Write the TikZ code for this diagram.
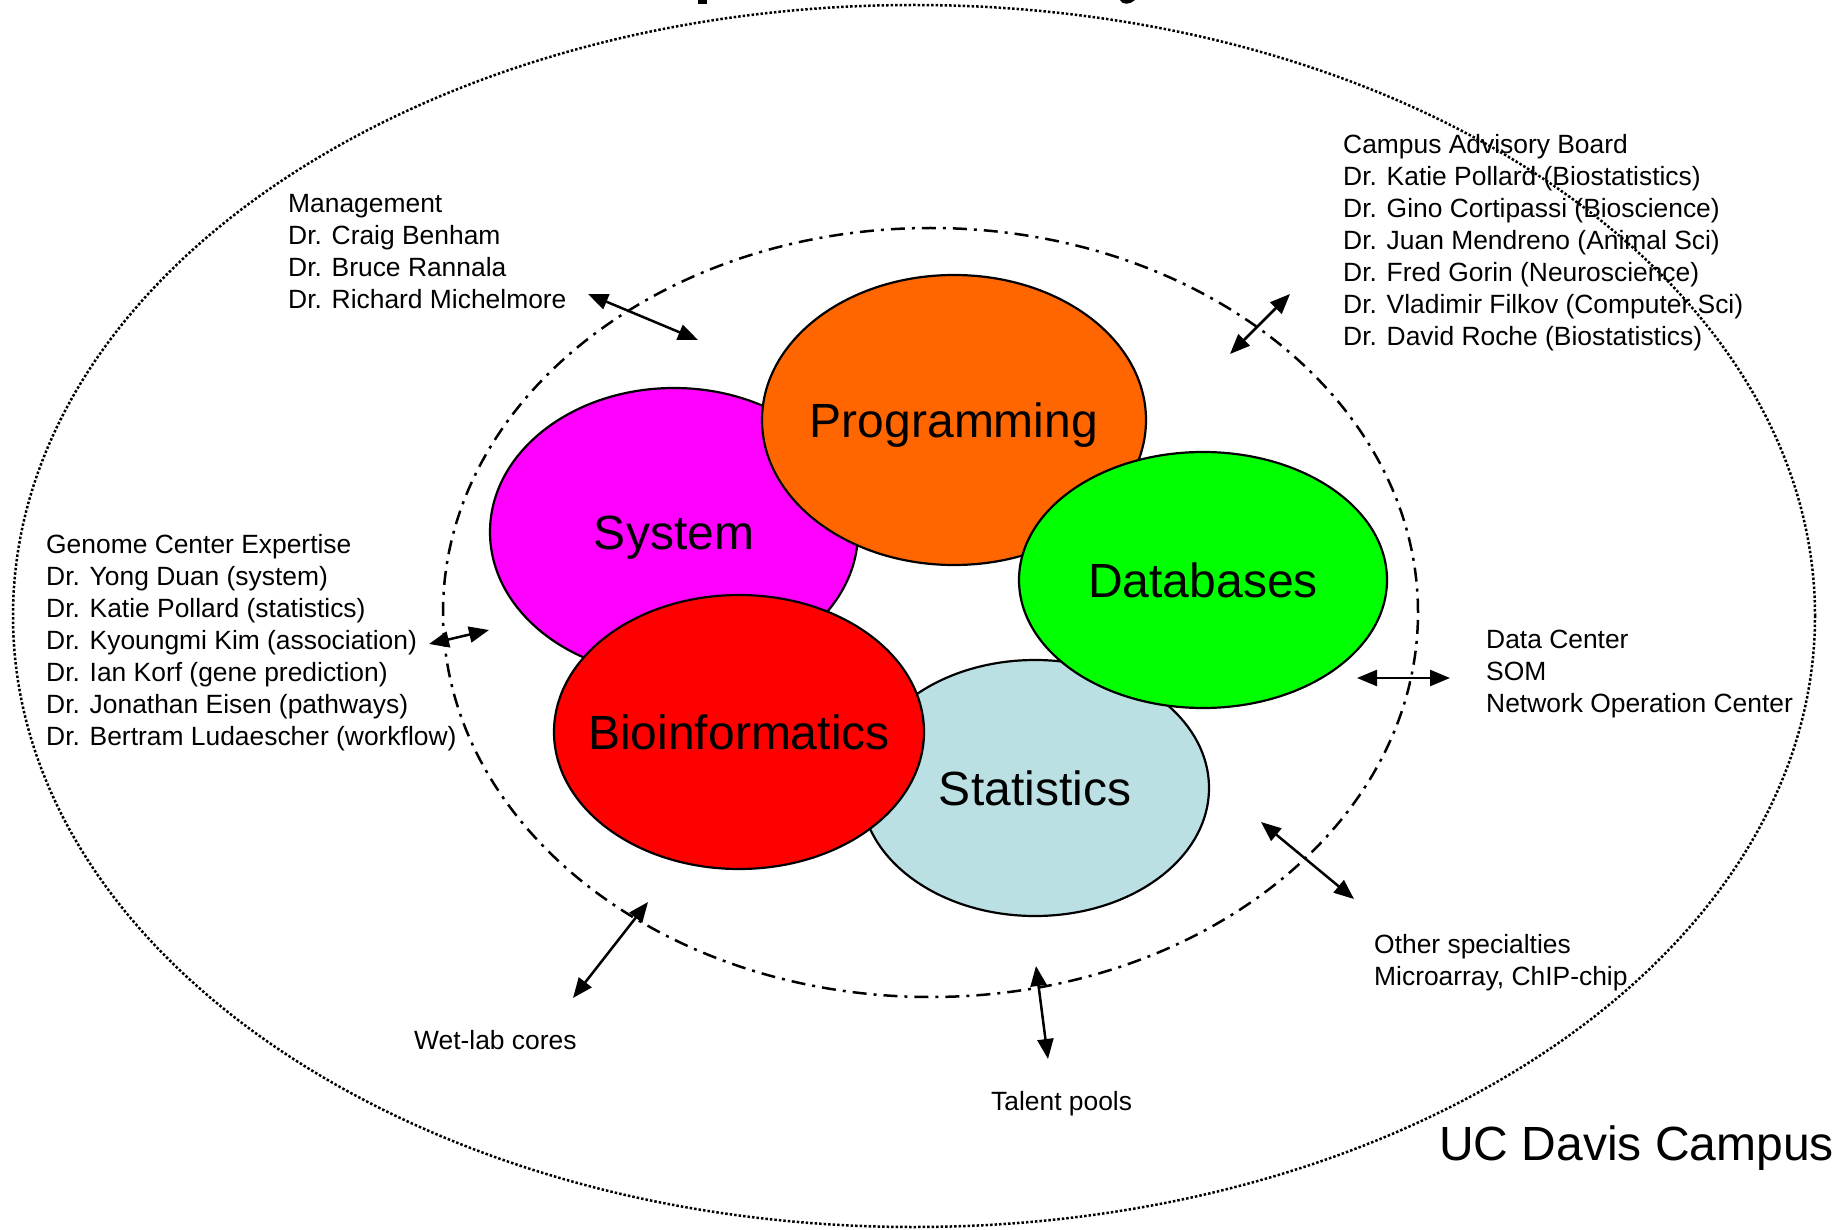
\documentclass[tikz,border=0pt]{standalone}
\usepackage{fontspec}
\setmainfont{Liberation Sans}
\usetikzlibrary{shapes.geometric,arrows.meta}
\definecolor{cMag}{HTML}{FF00FF}
\definecolor{cOra}{HTML}{FF6600}
\definecolor{cGre}{HTML}{00FF00}
\definecolor{cRed}{HTML}{FF0000}
\definecolor{cBlu}{HTML}{BBE0E3}
\tikzset{
  blob/.style={ellipse, draw=black, line width=2.2pt, inner sep=0pt},
  blobtext/.style={font=\fontsize{48}{56}\selectfont, inner sep=0pt, text height=35pt, text depth=0pt},
  info/.style={align=left, inner sep=0pt, anchor=north west,
    font=\fontsize{26.4}{32.1}\selectfont},
  lbl/.style={inner sep=0pt, anchor=west, font=\fontsize{26.4}{32.1}\selectfont},
  link/.style={line width=2.5pt, {Triangle[length=20pt,width=16pt]}-{Triangle[length=20pt,width=16pt]}},
  outerring/.style={ellipse, draw=black, line width=2.5pt, dash pattern=on 2.5pt off 2pt, inner sep=0pt},
  innerring/.style={ellipse, draw=black, line width=2.5pt, dash pattern=on 14pt off 7pt on 3pt off 7pt, inner sep=0pt}
}
\begin{document}
\begin{tikzpicture}[x=1pt,y=-1pt]
\useasboundingbox (0,0) rectangle (1845,1230);
% title fragments (cut off at top edge)
\fill (698,0) rectangle (707,4);
\fill (1120,0) .. controls (1122,5) and (1130,5) .. (1135,0) -- cycle;
% rings
\node[outerring, minimum width=1802pt, minimum height=1222pt] (campus) at (914,616) {};
\node[innerring, minimum width=975pt, minimum height=769pt] (core) at (930.5,612.5) {};
% colored ellipses
\node[blob, fill=cMag, minimum width=368pt, minimum height=288pt] (sys) at (674,532) {};
\node[blobtext] (sysT) at (sys.center) {System};
\node[blob, fill=cOra, minimum width=384pt, minimum height=290pt] (prog) at (954,420) {};
\node[blobtext] (progT) at (prog.center) {Programming};
\node[blob, fill=cBlu, minimum width=348pt, minimum height=256pt] (stat) at (1035,788) {};
\node[blobtext] (statT) at (stat.center) {Statistics};
\node[blob, fill=cGre, minimum width=368pt, minimum height=256pt] (db) at (1203,580) {};
\node[blobtext] (dbT) at (db.center) {Databases};
\node[blob, fill=cRed, minimum width=370pt, minimum height=274pt] (bio) at (739,732) {};
\node[blobtext] (bioT) at (bio.center) {Bioinformatics};
% text blocks
\node[info] (mgmt) at (288,194) {Management\\Dr. Craig Benham\\Dr. Bruce Rannala\\Dr. Richard Michelmore};
\node[info] (board) at (1343,134) {Campus Advisory Board\\Dr. Katie Pollard (Biostatistics)\\Dr. Gino Cortipassi (Bioscience)\\Dr. Juan Mendreno (Animal Sci)\\Dr. Fred Gorin (Neuroscience)\\Dr. Vladimir Filkov (Computer Sci)\\Dr. David Roche (Biostatistics)};
\node[info] (genome) at (46,534) {Genome Center Expertise\\Dr. Yong Duan (system)\\Dr. Katie Pollard (statistics)\\Dr. Kyoungmi Kim (association)\\Dr. Ian Korf (gene prediction)\\Dr. Jonathan Eisen (pathways)\\Dr. Bertram Ludaescher (workflow)};
\node[info] (data) at (1486,630) {Data Center\\SOM\\Network Operation Center};
\node[info] (other) at (1374,934) {Other specialties\\Microarray, ChIP-chip};
\node[lbl] (wet) at (414,1040) {Wet-lab cores};
\node[lbl] (talent) at (991,1104) {Talent pools};
\node[inner sep=0pt, anchor=west, font=\fontsize{48}{56}\selectfont] (ucd) at (1439,1148) {UC Davis Campus};
% arrow end points
\coordinate (a1) at (588,294); \coordinate (b1) at (698,340);
\coordinate (a2) at (1230,354); \coordinate (b2) at (1290,294);
\coordinate (a3) at (429,644); \coordinate (b3) at (489,630);
\coordinate (a4) at (1357,678); \coordinate (b4) at (1450,678);
\coordinate (a5) at (1261,822); \coordinate (b5) at (1354,899);
\coordinate (a6) at (648,902); \coordinate (b6) at (573,998);
\coordinate (a7) at (1036,966); \coordinate (b7) at (1048,1059);
\draw[link] (a1) -- (b1);
\draw[link] (a2) -- (b2);
\draw[link] (a3) -- (b3);
\draw[link] (a4) -- (b4);
\draw[link] (a5) -- (b5);
\draw[link] (a6) -- (b6);
\draw[link] (a7) -- (b7);
\end{tikzpicture}
\end{document}
